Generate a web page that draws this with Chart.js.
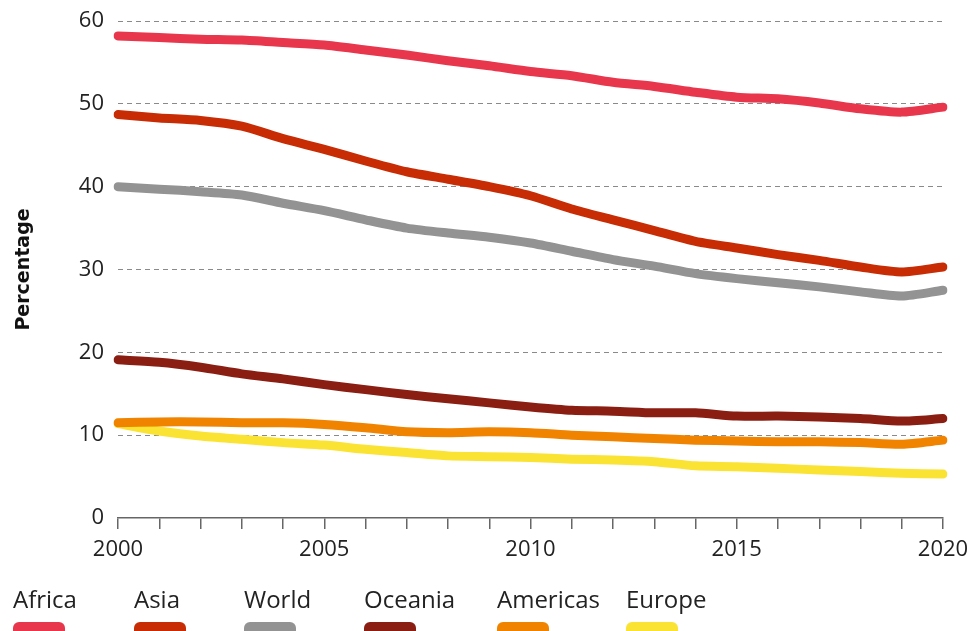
<!DOCTYPE html>
<html>
<head>
<meta charset="utf-8">
<script src="https://cdn.jsdelivr.net/npm/chart.js@4"></script>
<style>
  html, body { margin: 0; padding: 0; background: #fff; }
  #wrap { width: 972px; height: 631px; }
</style>
</head>
<body>
<div id="wrap"><canvas id="c"></canvas></div>
<script>
const YEARS = ['2000','2001','2002','2003','2004','2005','2006','2007','2008','2009','2010',
               '2011','2012','2013','2014','2015','2016','2017','2018','2019','2020'];

const AFRICA   = [58.2,58.0,57.8,57.7,57.4,57.1,56.5,55.9,55.2,54.6,53.9,53.4,52.6,52.1,51.4,50.8,50.6,50.1,49.4,49.0,49.6];
const ASIA     = [48.7,48.3,48.0,47.3,45.8,44.5,43.1,41.8,40.9,40.0,38.9,37.3,36.0,34.7,33.4,32.6,31.8,31.1,30.3,29.7,30.3];
const WORLD    = [40.0,39.7,39.4,39.0,38.0,37.1,36.0,35.0,34.4,33.9,33.2,32.2,31.2,30.4,29.5,28.9,28.4,27.9,27.3,26.8,27.5];
const OCEANIA  = [19.1,18.8,18.2,17.4,16.8,16.1,15.5,14.9,14.4,13.9,13.4,13.0,12.9,12.7,12.7,12.3,12.3,12.2,12.0,11.7,12.0];
const AMERICAS = [11.5,11.6,11.6,11.5,11.5,11.3,10.9,10.4,10.3,10.4,10.3,10.0,9.8,9.6,9.4,9.3,9.2,9.2,9.1,8.9,9.4];
const EUROPE   = [11.4,10.5,9.9,9.5,9.1,8.8,8.3,7.9,7.5,7.4,7.3,7.1,7.0,6.8,6.3,6.2,6.0,5.8,5.6,5.4,5.3];

const SERIES = [
    { label: 'Africa',   data: AFRICA,   color: '#e8374c' },
    { label: 'Asia',     data: ASIA,     color: '#c72c05' },
    { label: 'World',    data: WORLD,    color: '#939393' },
    { label: 'Oceania',  data: OCEANIA,  color: '#8a1e12' },
    { label: 'Americas', data: AMERICAS, color: '#f08400' },
    { label: 'Europe',   data: EUROPE,   color: '#fae333' },
];

const FONT = "'Open Sans', Lato, sans-serif";
const LEGEND_X = [13, 134, 244, 364, 497, 626];

// legend drawn under the axis: label text with a rounded swatch below it
const legendPlugin = {
    id: 'bottomLegend',
    afterDraw(chart) {
        const c = chart.ctx;
        c.save();
        c.font = '24px ' + FONT;
        c.textBaseline = 'alphabetic';
        c.textAlign = 'left';
        chart.data.datasets.forEach((ds, i) => {
            const x = LEGEND_X[i];
            c.fillStyle = '#222';
            c.fillText(ds.label, x, 608);
            c.fillStyle = ds.borderColor;
            c.beginPath();
            c.roundRect(x, 622, 52, 14, 6);
            c.fill();
        });
        c.restore();
    }
};

new Chart(document.getElementById('c'), {
    type: 'line',
    data: {
        labels: YEARS,
        datasets: SERIES.map(s => ({
            label: s.label,
            data: s.data,
            borderColor: s.color,
            backgroundColor: s.color,
            borderWidth: 9,
            borderCapStyle: 'round',
            borderJoinStyle: 'round',
            pointRadius: 0,
            tension: 0.25,
        }))
    },
    options: {
        responsive: true,
        maintainAspectRatio: false,
        animation: false,
        layout: { padding: { top: 21, right: 29, left: 0, bottom: 0 } },
        plugins: {
            legend: { display: false },
            tooltip: { enabled: false },
        },
        scales: {
            x: {
                offset: false,
                afterFit(scale) {
                    scale.height = 113;
                    scale.paddingLeft = 0;
                    scale.paddingRight = 0;
                },
                border: { display: true, color: '#666', width: 1.5 },
                grid: {
                    drawOnChartArea: false,
                    drawTicks: true,
                    tickLength: 11,
                    tickColor: '#666',
                    lineWidth: 1.5,
                },
                ticks: {
                    autoSkip: false,
                    maxRotation: 0,
                    padding: 8,
                    color: '#222',
                    font: { family: FONT, size: 22 },
                    callback: (v, i) => (parseInt(YEARS[i]) % 5 === 0 ? YEARS[i] : ''),
                }
            },
            y: {
                min: 0,
                max: 60,
                afterFit(scale) {
                    scale.width = 118;
                    scale.paddingTop = 0;
                    scale.paddingBottom = 0;
                },
                grid: {
                    drawTicks: false,
                    color: (ctx) => (ctx.tick && ctx.tick.value === 0 ? 'rgba(0,0,0,0)' : '#8a8a8a'),
                    lineWidth: 1,
                },
                border: { display: false, dash: [5, 4] },
                ticks: {
                    stepSize: 10,
                    padding: 14,
                    color: '#222',
                    font: { family: FONT, size: 22 },
                },
                title: {
                    display: true,
                    text: 'Percentage',
                    color: '#111',
                    font: { family: "'DejaVu Sans', sans-serif", size: 19, weight: 'bold' },
                    padding: { top: 13, bottom: 0 },
                }
            }
        }
    },
    plugins: [legendPlugin]
});
</script>
</body>
</html>
